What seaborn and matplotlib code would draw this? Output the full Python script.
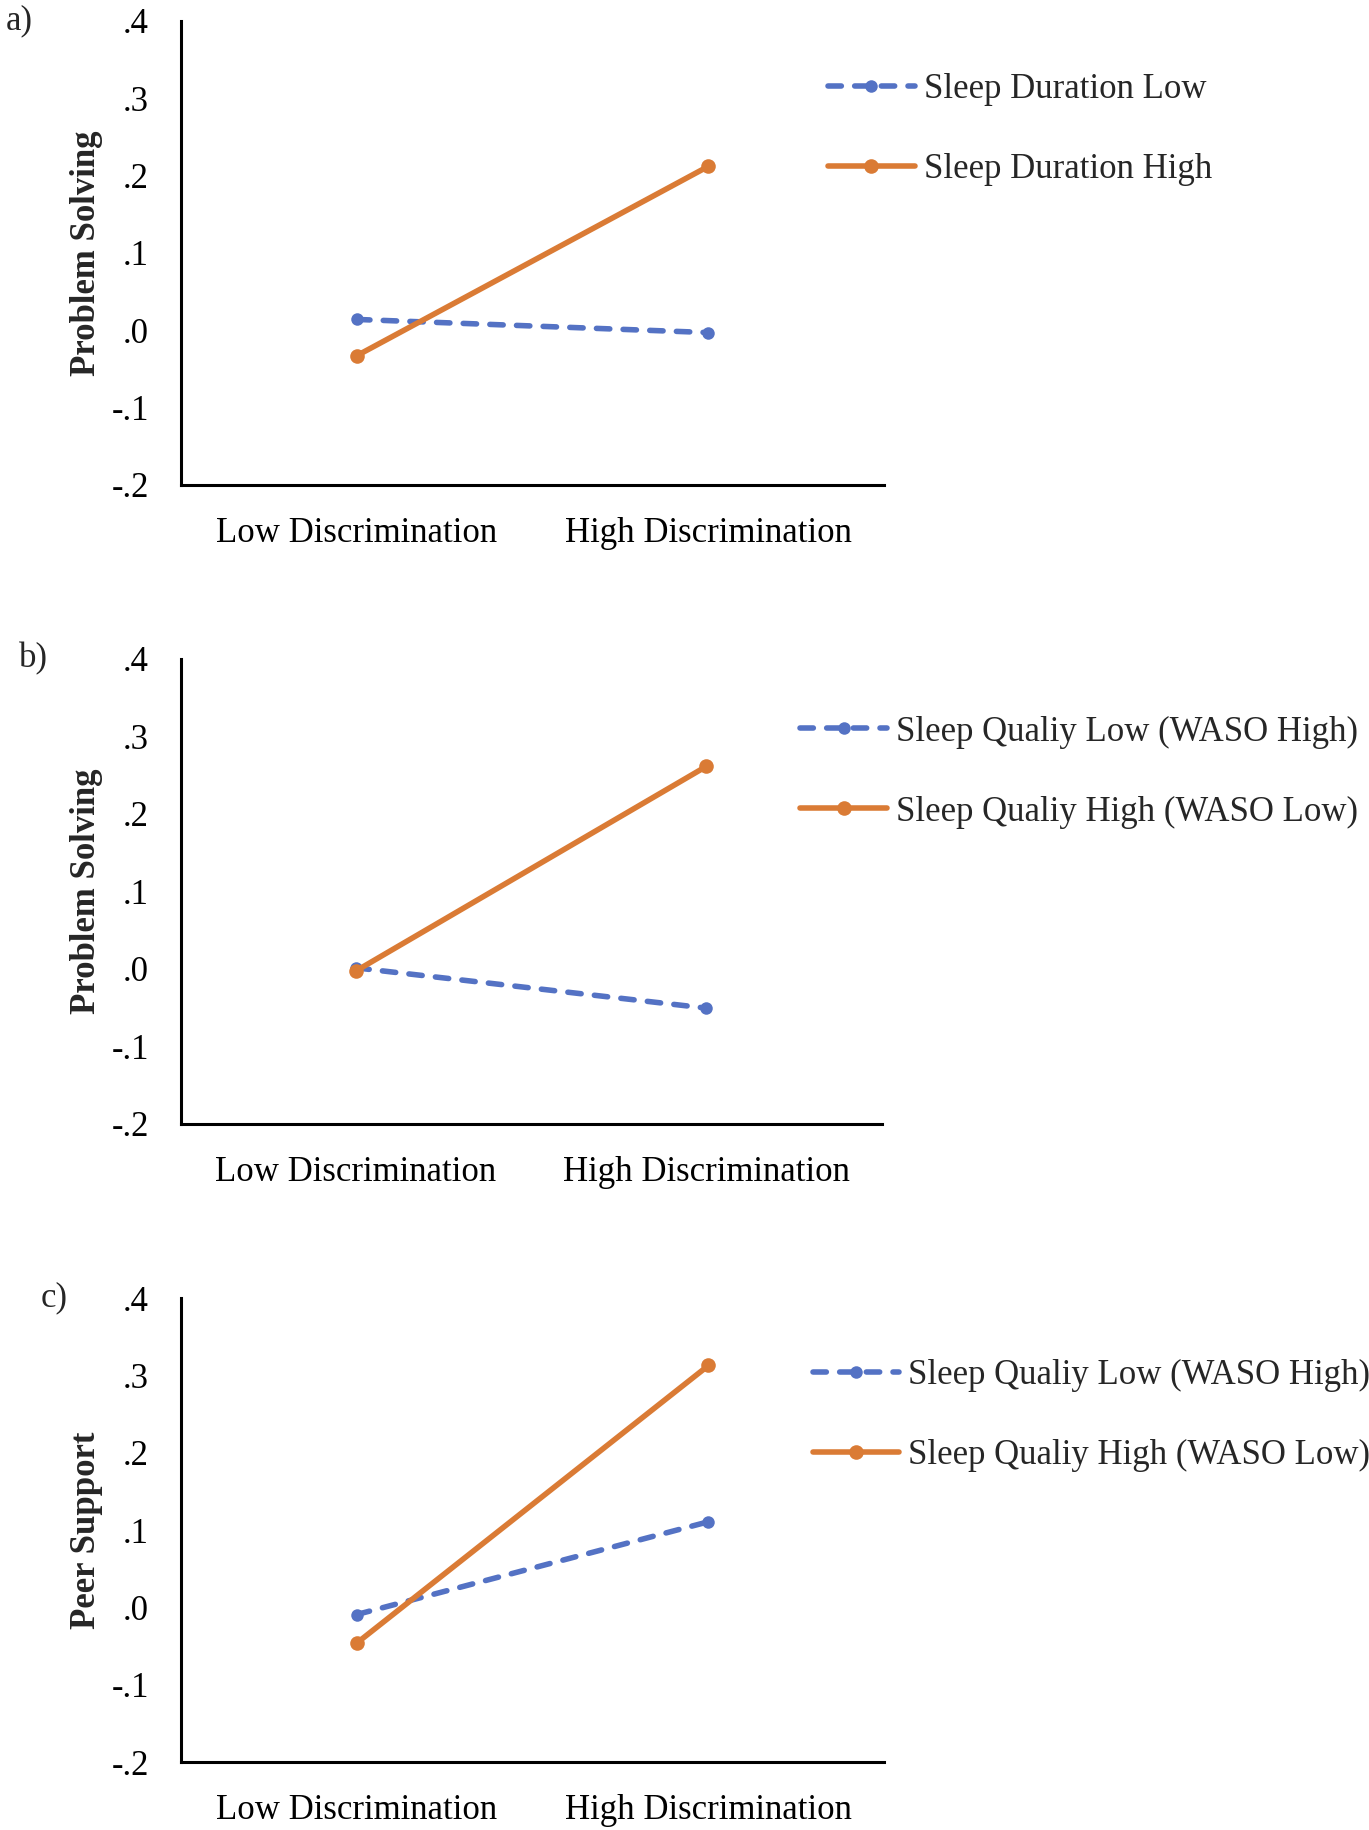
import numpy as np
import pandas as pd
import matplotlib
matplotlib.use('Agg')
import matplotlib.pyplot as plt
import seaborn as sns

## Data
levels = ['Low Discrimination', 'High Discrimination']

# a) problem solving by sleep duration
dur_low = [0.014, -0.003]
dur_high = [-0.033, 0.212]
# b) problem solving by sleep quality
qual_low_ps = [0.001, -0.051]
qual_high_ps = [-0.003, 0.261]
# c) peer support by sleep quality
qual_low_peer = [-0.009, 0.111]
qual_high_peer = [-0.046, 0.313]

panel_tags = ['a)', 'b)', 'c)']
y_titles = ['Problem Solving', 'Problem Solving', 'Peer Support']
legend_names = [['Sleep Duration Low', 'Sleep Duration High'],
                ['Sleep Qualiy Low (WASO High)', 'Sleep Qualiy High (WASO Low)'],
                ['Sleep Qualiy Low (WASO High)', 'Sleep Qualiy High (WASO Low)']]
y_ticks = [-0.2, -0.1, 0.0, 0.1, 0.2, 0.3, 0.4]
y_tick_labels = ['-.2', '-.1', '.0', '.1', '.2', '.3', '.4']

series = [(dur_low, dur_high), (qual_low_ps, qual_high_ps), (qual_low_peer, qual_high_peer)]

## Style
sns.set_theme(style='white')
plt.rcParams['font.family'] = ['Liberation Serif', 'DejaVu Serif']
blue = '#5472C4'
orange = '#DA7B35'
fs = 25

fig = plt.figure(figsize=(13.69, 18.3), dpi=100)

# axes boxes in figure fraction: left, bottom, width, height
boxes = [(0.132, 0.735, 0.514, 0.2536),
         (0.132, 0.386, 0.512, 0.2541),
         (0.132, 0.037, 0.514, 0.2536)]
legend_anchor = [(0.920, 0.765), (0.884, 0.756), (0.898, 0.747)]
tag_pos = [(0.004, 0.9885), (0.014, 0.6399), (0.030, 0.2907)]

for i in range(3):
    ax = fig.add_axes(boxes[i])
    low, high = series[i]
    names = legend_names[i]
    df = pd.DataFrame({'x': levels * 2,
                       'y': low + high,
                       'group': [names[0]] * 2 + [names[1]] * 2})
    sns.lineplot(data=df, x='x', y='y', hue='group', style='group',
                 palette=[blue, orange], dashes=[(2.4, 2.4), ''],
                 markers=['o', 'o'], markersize=10.5, markeredgewidth=0,
                 linewidth=4.0, dash_capstyle='round', solid_capstyle='round',
                 sort=False, legend=False, ax=ax)
    ax.lines[0].set_markersize(9)

    ax.set_xlim(-0.5, 1.5)
    ax.set_ylim(-0.2, 0.4)
    ax.set_yticks(y_ticks)
    ax.set_yticklabels(y_tick_labels)
    ax.set_xlabel('')
    ax.set_ylabel(y_titles[i], fontsize=fs, fontweight='bold')
    ax.yaxis.set_label_coords(-0.111, 0.5)
    ax.tick_params(axis='both', length=0, labelsize=fs, colors='black')
    ax.tick_params(axis='y', pad=23)
    ax.tick_params(axis='x', pad=23)

    sns.despine(ax=ax)
    for side in ['left', 'bottom']:
        ax.spines[side].set_color('black')
        ax.spines[side].set_linewidth(2.2)

    ax.legend(ax.lines[:2], names, loc='center left', bbox_to_anchor=legend_anchor[i],
              frameon=False, fontsize=fs, borderpad=0, borderaxespad=0,
              handlelength=2.5, handletextpad=0.25, labelspacing=1.35)

    fig.text(tag_pos[i][0], tag_pos[i][1], panel_tags[i], fontsize=fs,
             ha='left', va='center')

fig.savefig('out.png', dpi=100)
